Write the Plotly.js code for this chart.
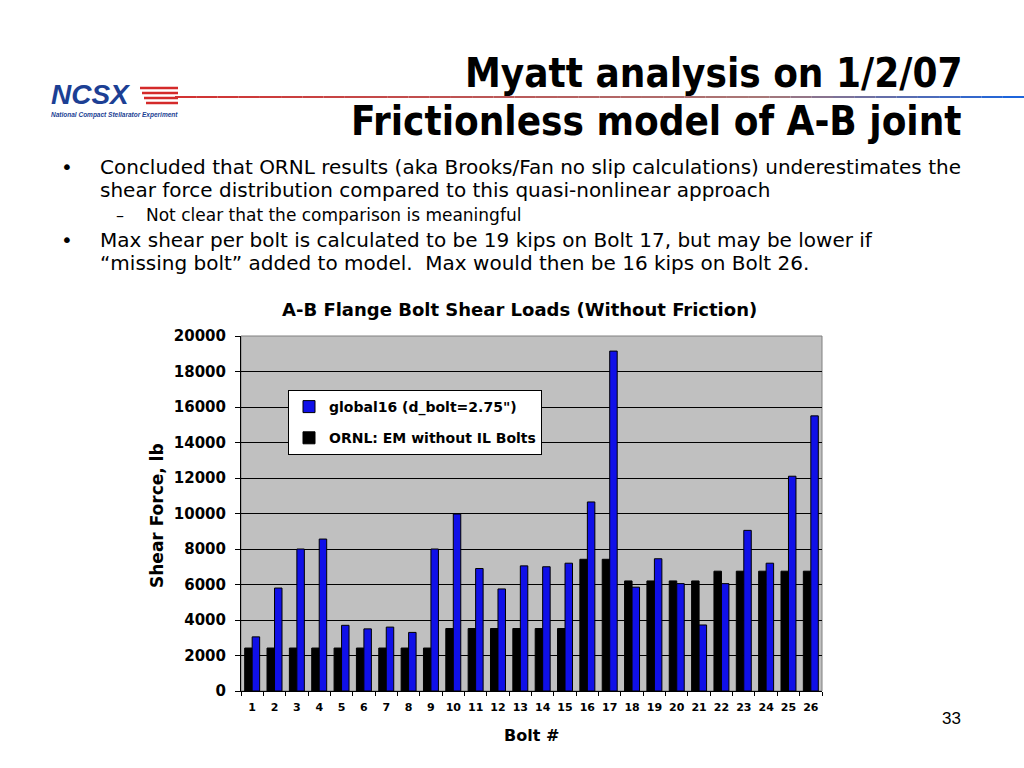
<!DOCTYPE html>
<html>
<head>
<meta charset="utf-8">
<script src="https://cdn.plot.ly/plotly-3.0.1.min.js"></script>
<style>
html,body{margin:0;padding:0;background:#fff;}
#chart{width:1024px;height:768px;}
</style>
</head>
<body>
<div id="chart"></div>
<script>
// ---- data ----
const bolts = ["1","2","3","4","5","6","7","8","9","10","11","12","13","14","15","16","17","18","19","20","21","22","23","24","25","26"];
const global16 = [3050,5800,8000,8560,3700,3500,3600,3300,8000,9970,6900,5750,7050,7000,7200,10650,19150,5850,7450,6050,3720,6050,9050,7200,12100,15500];
const ornl = [2420,2420,2420,2420,2420,2420,2420,2420,2420,3520,3520,3520,3520,3520,3520,7420,7420,6200,6200,6200,6200,6750,6750,6750,6750,6750];
const yTicks = [0,2000,4000,6000,8000,10000,12000,14000,16000,18000,20000];

const W = 1024, H = 768;
const px = x => x / W;
const py = y => 1 - y / H;

const traces = [
  {type:'bar', name:'ORNL: EM without IL Bolts', x:bolts, y:ornl, legendgroup:'b', legendrank:2,
   marker:{color:'#000000', line:{color:'#000000', width:1}}, hoverinfo:'skip'},
  {type:'bar', name:'global16 (d_bolt=2.75")', x:bolts, y:global16, legendgroup:'a', legendrank:1,
   marker:{color:'#1010E8', line:{color:'#000000', width:1}}, hoverinfo:'skip'}
];

const titleFont = '"DejaVu Sans Condensed", "DejaVu Sans", sans-serif';
const body = '"DejaVu Sans", sans-serif';
const chartFont = '"DejaVu Sans", sans-serif';
const ann = [];
function text(t, x, y, size, opts) {
  ann.push(Object.assign({text:t, x:px(x), y:py(y), xref:'paper', yref:'paper',
    showarrow:false, font:{size:size, color:'#000', family:body},
    xanchor:'left', yanchor:'middle', borderpad:0}, opts || {}));
}
// slide title
text('<b>Myatt analysis on 1/2/07</b>', 963, 73, 40, {xanchor:'right', font:{size:40, family:titleFont, color:'#000'}});
text('<b>Frictionless model of A-B joint</b>', 963, 121, 40, {xanchor:'right', font:{size:40, family:titleFont, color:'#000'}});
// bullets
text('•', 60, 167, 20);
text('Concluded that ORNL results (aka Brooks/Fan no slip calculations) underestimates the', 99, 167, 20);
text('shear force distribution compared to this quasi-nonlinear approach', 99, 190, 20);
text('–', 115, 215, 16);
text('Not clear that the comparison is meaningful', 145, 215, 17);
text('•', 60, 240, 20);
text('Max shear per bolt is calculated to be 19 kips on Bolt 17, but may be lower if', 99, 240, 20);
text('“missing bolt” added to model.  Max would then be 16 kips on Bolt 26.', 99, 263, 20);
// chart labels
text('<b>A-B Flange Bolt Shear Loads (Without Friction)</b>', 519, 309, 18, {xanchor:'center', font:{size:18, family:chartFont, color:'#000'}});
text('<b>Shear Force, lb</b>', 157, 516, 17, {xanchor:'center', textangle:-90, font:{size:17, family:chartFont, color:'#000'}});
text('<b>Bolt #</b>', 531, 735, 16, {xanchor:'center', font:{size:16, family:chartFont, color:'#000'}});
text('33', 951, 718, 17, {xanchor:'center', font:{size:17, family:'"Liberation Sans", Arial, sans-serif', color:'#000'}});
// logo
text('<b><i>NCSX</i></b>', 50, 94, 28, {font:{size:28, family:'"Liberation Sans", Arial, sans-serif', color:'#1c3f94'}});
text('<b><i>National Compact Stellarator Experiment</i></b>', 50, 115, 6.5, {font:{size:6.5, family:'"Liberation Sans", Arial, sans-serif', color:'#1c3f94'}});

const shapes = [];
// logo stripes
[88, 93, 98, 103].forEach((yy, i) => {
  shapes.push({type:'line', xref:'paper', yref:'paper', x0:px(140 + i*2), x1:px(178), y0:py(yy), y1:py(yy),
    line:{color:'#d42a2a', width:2.5}});
});
// gradient title rule
const nSeg = 40;
for (let i = 0; i < nSeg; i++) {
  const t = i / (nSeg - 1);
  const x0 = 175 + (1024 - 175) * i / nSeg, x1 = 175 + (1024 - 175) * (i + 1) / nSeg;
  let r, g, b;
  if (t < 0.7) { r = 210 - t*60; g = 50 + t*100; b = 50 + t*100; }
  else { const u = (t - 0.7) / 0.3; r = 168 - u*140; g = 120 - u*20; b = 120 + u*100; }
  shapes.push({type:'line', xref:'paper', yref:'paper', x0:px(x0), x1:px(x1), y0:py(97), y1:py(97),
    line:{color:`rgb(${Math.round(r)},${Math.round(g)},${Math.round(b)})`, width:2}});
}
// plot frame (gray top/right)
shapes.push({type:'rect', xref:'paper', yref:'paper', x0:px(241), x1:px(822), y0:py(691), y1:py(336),
  line:{color:'#808080', width:1}, layer:'below'});

const layout = {
  width:W, height:H,
  margin:{l:0, r:0, t:0, b:0},
  paper_bgcolor:'#ffffff',
  plot_bgcolor:'#c0c0c0',
  showlegend:true,
  barmode:'group',
  bargap:0.33,
  bargroupgap:0,
  font:{family:chartFont, color:'#000'},
  xaxis:{domain:[px(241), px(822)], type:'category', automargin:false,
    showline:true, linecolor:'#000', linewidth:1, ticks:'outside', ticklen:4, tickcolor:'#000',
    tickson:'boundaries', showgrid:false, tickfont:{size:11, family:chartFont, color:'#000', weight:'bold'},
    tickangle:0, ticklabelstandoff:6, fixedrange:true},
  yaxis:{domain:[py(691), py(336)], range:[0,20000], tickvals:yTicks, ticktext:yTicks.map(String),
    automargin:false, showline:true, linecolor:'#000', linewidth:1, ticks:'outside', ticklen:5, tickcolor:'#000',
    showgrid:true, gridcolor:'#000', gridwidth:1, zeroline:false, ticklabelstandoff:6,
    tickfont:{size:15, family:chartFont, color:'#000', weight:'bold'}, fixedrange:true},
  legend:{x:px(288), y:py(390), xanchor:'left', yanchor:'top', bgcolor:'#ffffff', bordercolor:'#000', borderwidth:1,
    traceorder:'grouped', font:{size:14, family:chartFont, color:'#000', weight:'bold'}, tracegroupgap:10,
    itemwidth:30},
  annotations:ann,
  shapes:shapes
};

Plotly.newPlot('chart', traces, layout, {displayModeBar:false, staticPlot:true});
</script>
</body>
</html>
